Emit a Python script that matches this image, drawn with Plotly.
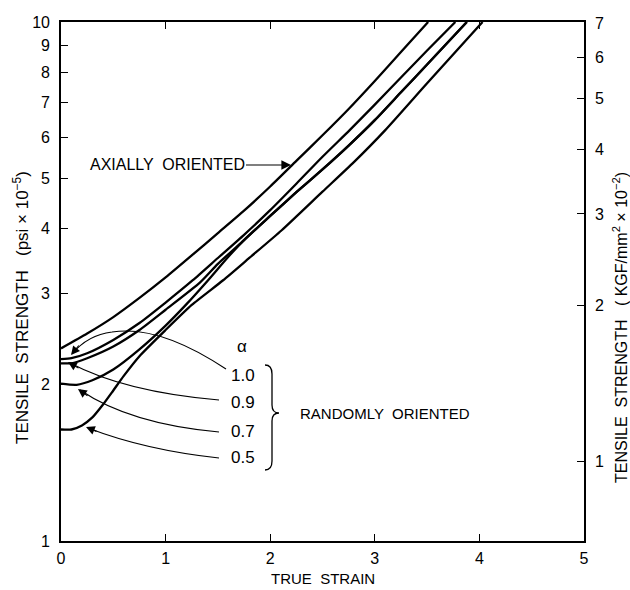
import math
import plotly.graph_objects as go

# ---------------- data ----------------
strain_axial = [0, 0.25, 0.5, 0.75, 1.0, 1.25, 1.5, 1.75, 2.0, 2.25, 2.5, 2.75, 3.0, 3.25, 3.51]
ts_axial = [2.35, 2.51, 2.70, 2.94, 3.22, 3.55, 3.92, 4.33, 4.82, 5.40, 6.05, 6.80, 7.70, 8.75, 10.0]

strain_a10 = [0, 0.1, 0.25, 0.5, 0.75, 1.0, 1.26, 1.5, 1.75, 2.0, 2.25, 2.5, 2.76, 3.0, 3.25, 3.5, 3.77]
ts_a10 = [2.24, 2.25, 2.30, 2.44, 2.63, 2.88, 3.18, 3.51, 3.89, 4.34, 4.88, 5.50, 6.19, 6.93, 7.82, 8.81, 10.0]

strain_a09 = [0, 0.1, 0.25, 0.5, 0.75, 1.0, 1.33, 1.5, 1.75, 2.0, 2.25, 2.5, 2.75, 3.0, 3.25, 3.5, 3.88]
ts_a09 = [2.20, 2.20, 2.25, 2.37, 2.55, 2.79, 3.15, 3.42, 3.80, 4.23, 4.70, 5.20, 5.78, 6.47, 7.32, 8.28, 10.0]

strain_a07 = [0, 0.15, 0.3, 0.5, 0.75, 1.0, 1.2, 1.4, 1.6, 1.75, 2.0, 2.25, 2.5, 2.75, 3.0, 3.25, 3.5, 3.88]
ts_a07 = [2.01, 2.00, 2.04, 2.14, 2.34, 2.60, 2.86, 3.17, 3.53, 3.80, 4.23, 4.70, 5.20, 5.78, 6.47, 7.32, 8.28, 10.0]

strain_a05 = [0, 0.1, 0.2, 0.3, 0.4, 0.5, 0.6, 0.75, 1.0, 1.25, 1.55, 1.8, 2.11, 2.5, 2.8, 3.1, 3.5, 4.03]
ts_a05 = [1.64, 1.64, 1.67, 1.73, 1.83, 1.95, 2.08, 2.27, 2.55, 2.85, 3.18, 3.51, 3.97, 4.71, 5.37, 6.19, 7.62, 10.0]

x_ticks = [0, 1, 2, 3, 4, 5]
psi_ticks = [1, 2, 3, 4, 5, 6, 7, 8, 9, 10]
kgf_ticks = [1, 2, 3, 4, 5, 6, 7]
PSI_TO_KGF = 0.70307  # (psi x 1e5) -> (kgf/mm^2 x 1e2)

alpha_labels = ["1.0", "0.9", "0.7", "0.5"]

# ---------------- layout geometry ----------------
W, H = 630, 590
L, R, T, B = 61, 584, 22, 541
FONT = "Liberation Sans, Arial, sans-serif"


def px(xp):
    return (xp - L) / (R - L)


def py(yp):
    return (B - yp) / (B - T)


def path(cmds):
    out = []
    for c in cmds:
        if isinstance(c, str):
            out.append(c)
        else:
            out.append(f"{px(c[0]):.5f},{py(c[1]):.5f}")
    return " ".join(out)


fig = go.Figure()
curves = [
    (strain_axial, ts_axial, "Axially oriented"),
    (strain_a10, ts_a10, "α = 1.0"),
    (strain_a09, ts_a09, "α = 0.9"),
    (strain_a07, ts_a07, "α = 0.7"),
    (strain_a05, ts_a05, "α = 0.5"),
]
for xs, ys, name in curves:
    fig.add_trace(go.Scatter(x=xs, y=ys, mode="lines", name=name,
                             line=dict(color="black", width=2.3, shape="spline", smoothing=0.6),
                             showlegend=False, hoverinfo="x+y+name"))

# invisible trace to carry the right-hand (kgf) axis
fig.add_trace(go.Scatter(x=strain_axial, y=[v * PSI_TO_KGF for v in ts_axial], yaxis="y2",
                         mode="lines", line=dict(width=0, color="rgba(0,0,0,0)"),
                         showlegend=False, hoverinfo="skip"))

axis_common = dict(showline=True, linecolor="black", linewidth=1.6, ticks="inside",
                   ticklen=7, tickwidth=1.4, tickcolor="black", showgrid=False, zeroline=False,
                   tickfont=dict(family=FONT, size=16, color="black"))

fig.update_layout(
    width=W, height=H,
    margin=dict(l=L, r=W - R, t=T, b=H - B, autoexpand=False),
    paper_bgcolor="white", plot_bgcolor="white",
    xaxis=dict(range=[0, 5], tickvals=x_ticks, ticktext=[str(v) for v in x_ticks],
               mirror="ticks", ticklabelstandoff=2, **axis_common),
    yaxis=dict(type="log", range=[0, 1], tickvals=psi_ticks,
               ticktext=[str(v) for v in psi_ticks], ticklabelstandoff=6, **axis_common),
    yaxis2=dict(type="log", overlaying="y", side="right",
                range=[math.log10(PSI_TO_KGF), math.log10(10 * PSI_TO_KGF)],
                tickvals=kgf_ticks, ticktext=[str(v) for v in kgf_ticks],
                ticklabelstandoff=6, **axis_common),
)

ann = []


def text_ann(text, x, y, size=15, angle=0, xanchor="center", family=FONT):
    return dict(text=text, x=px(x), y=py(y), xref="paper", yref="paper", showarrow=False,
                xanchor=xanchor, yanchor="middle", textangle=angle,
                font=dict(family=family, size=size, color="black"))


# axis titles
ann.append(text_ann("TRUE  STRAIN", 323, 578, size=15))
ann.append(text_ann("TENSILE  STRENGTH   (psi × 10<sup>−5</sup>)", 21, 308, size=17, angle=-90))
ann.append(text_ann("TENSILE  STRENGTH   ( KGF/mm<sup>2</sup> × 10<sup>−2</sup>)", 620, 328,
                    size=16, angle=-90))

# axially oriented label with arrow
ann.append(dict(text="AXIALLY  ORIENTED", x=px(291), y=py(165), xref="paper", yref="paper",
                ax=-124, ay=0, showarrow=True, arrowhead=2, arrowsize=1.6, arrowwidth=1.2,
                arrowcolor="black", font=dict(family=FONT, size=16, color="black")))

# alpha labels
ann.append(text_ann("α", 242, 347, size=17))
for lab, yy in zip(alpha_labels, [375, 402, 431, 457]):
    ann.append(text_ann(lab, 243, yy, size=17))
ann.append(text_ann("RANDOMLY  ORIENTED", 298, 413, size=15, xanchor="left"))

# arrowheads at leader ends (tip, tail offset)
for (tx, ty, dx, dy) in [(71, 355, 9, -11), (68, 362, 12, 7), (78, 389, 11, 8), (86, 427, 12, 5)]:
    ann.append(dict(text="", x=px(tx), y=py(ty), xref="paper", yref="paper", ax=dx, ay=dy,
                    showarrow=True, arrowhead=2, arrowsize=1.6, arrowwidth=1.1, arrowcolor="black"))
fig.update_layout(annotations=ann)

shapes = []
leader = dict(type="path", xref="paper", yref="paper", line=dict(color="black", width=1.1))
shapes.append(dict(path=path(["M", (226, 369), "C", (190, 345), (150, 326), (112, 332),
                              "C", (95, 334), (82, 342), (72, 354)]), **leader))
shapes.append(dict(path=path(["M", (219, 400), "Q", (125, 392), (70, 363)]), **leader))
shapes.append(dict(path=path(["M", (219, 432), "Q", (130, 424), (80, 390)]), **leader))
shapes.append(dict(path=path(["M", (219, 458), "Q", (145, 450), (88, 428)]), **leader))
# brace
shapes.append(dict(path=path(["M", (265, 365), "Q", (272, 365), (272, 374), "L", (272, 405),
                              "Q", (272, 413), (279, 413), "Q", (272, 413), (272, 421),
                              "L", (272, 461), "Q", (272, 470), (265, 470)]),
                   type="path", xref="paper", yref="paper", line=dict(color="black", width=1.3)))
fig.update_layout(shapes=shapes)

fig.write_html("out.html", config={"displayModeBar": False},
               post_script="document.body.style.margin='0';")
